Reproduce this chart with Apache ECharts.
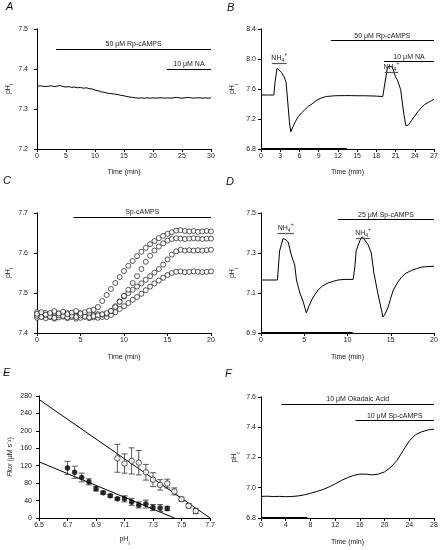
<!DOCTYPE html>
<html><head><meta charset="utf-8">
<script src="https://cdn.jsdelivr.net/npm/echarts@6/dist/echarts.min.js"></script>
<style>html,body{margin:0;padding:0;background:#fff}#c{width:444px;height:550px}</style>
</head><body><div id="c"></div>
<script>
// ---------- DATA ----------
// Panel A
const timeA = [0,0.5,1,1.5,2,2.5,3,3.5,4,4.5,5,5.5,6,6.5,7,7.5,8,8.5,9,9.5,10,10.5,11,11.5,12,12.5,13,13.5,14,14.5,15,15.5,16,16.5,17,17.5,18,18.5,19,19.5,20,20.5,21,21.5,22,22.5,23,23.5,24,24.5,25,25.5,26,26.5,27,27.5,28,28.5,29,29.5,30];
const phA = [7.357,7.358,7.357,7.356,7.357,7.358,7.356,7.357,7.359,7.356,7.355,7.356,7.354,7.355,7.353,7.354,7.352,7.353,7.351,7.350,7.347,7.346,7.343,7.342,7.340,7.339,7.338,7.337,7.336,7.334,7.333,7.331,7.330,7.329,7.328,7.327,7.328,7.327,7.328,7.327,7.328,7.327,7.328,7.328,7.327,7.328,7.327,7.328,7.329,7.328,7.327,7.328,7.329,7.328,7.327,7.328,7.328,7.327,7.328,7.327,7.328];
const barsA = [
  {text:'50 μM Rp-cAMPS', from:3.3, to:30, at:7.45},
  {text:'10 μM NA', from:22.4, to:30, at:7.40}
];
// Panel B
const timeB = [0,1,2,2.2,2.5,2.8,3.2,3.6,3.9,4.2,4.45,4.65,5.0,5.4,5.8,6.3,6.8,7.4,8.1,8.7,9.4,10.2,11.5,13,14,15,16,17,18,19,19.3,19.7,20.0,20.5,21.0,21.3,21.8,22.2,22.6,23.0,23.5,24.0,24.5,25.0,25.5,26.1,26.6,27];
const phB = [7.52,7.52,7.52,7.70,7.875,7.86,7.82,7.76,7.70,7.40,7.15,7.03,7.10,7.17,7.23,7.28,7.32,7.37,7.41,7.45,7.48,7.50,7.51,7.512,7.512,7.51,7.51,7.508,7.505,7.50,7.50,7.87,7.91,7.89,7.76,7.72,7.59,7.32,7.11,7.12,7.18,7.24,7.30,7.35,7.39,7.42,7.445,7.465];
const barsB = [
  {text:'50 μM Rp-cAMPS', from:10.9, to:27, at:8.25},
  {text:'10 μM NA', from:19.2, to:27, at:7.97}
];
const nh4B = [{from:1.7, to:4.0, at:7.94}, {from:19.3, to:21.4, at:7.82}];
const axisMarkB = [0, 13.4];
// Panel C
const timeC = [0,0.5,1,1.5,2,2.5,3,3.5,4,4.5,5,5.5,6,6.5,7,7.5,8,8.5,9,9.5,10,10.5,11,11.5,12,12.5,13,13.5,14,14.5,15,15.5,16,16.5,17,17.5,18,18.5,19,19.5,20];
const phC1 = [7.448,7.452,7.446,7.450,7.455,7.449,7.453,7.447,7.451,7.455,7.449,7.452,7.456,7.458,7.465,7.480,7.495,7.510,7.525,7.540,7.555,7.568,7.580,7.592,7.603,7.613,7.622,7.630,7.637,7.643,7.648,7.652,7.656,7.657,7.655,7.654,7.655,7.653,7.654,7.655,7.654];
const phC2 = [7.443,7.440,7.445,7.441,7.438,7.444,7.442,7.439,7.443,7.440,7.444,7.441,7.439,7.442,7.444,7.447,7.450,7.455,7.465,7.478,7.493,7.508,7.525,7.542,7.560,7.578,7.593,7.606,7.616,7.624,7.631,7.635,7.637,7.636,7.635,7.636,7.637,7.636,7.635,7.636,7.636];
const phC3 = [7.452,7.447,7.450,7.446,7.451,7.448,7.445,7.450,7.447,7.444,7.449,7.446,7.448,7.445,7.447,7.446,7.448,7.455,7.467,7.479,7.491,7.500,7.508,7.516,7.524,7.533,7.542,7.551,7.560,7.571,7.584,7.596,7.604,7.608,7.606,7.607,7.606,7.607,7.606,7.607,7.608];
const phC4 = [7.438,7.441,7.437,7.440,7.436,7.439,7.441,7.437,7.440,7.436,7.438,7.441,7.437,7.439,7.438,7.440,7.440,7.445,7.452,7.460,7.467,7.475,7.483,7.490,7.498,7.507,7.516,7.524,7.531,7.538,7.545,7.550,7.553,7.554,7.552,7.553,7.554,7.553,7.552,7.553,7.554];
const barsC = [{text:'Sp-cAMPS', from:4.2, to:20, at:7.69}];
// Panel D
const timeD = [0,1,1.9,2.15,2.55,2.9,3.15,3.5,3.9,4.1,4.5,4.85,5.25,5.5,5.85,6.2,6.6,7.1,7.75,8.3,8.9,9.6,10.65,10.85,11.0,11.4,11.7,12.0,12.4,12.75,13.05,13.5,13.9,14.1,14.35,14.7,15.0,15.3,15.75,16.25,16.8,17.4,18.0,18.6,19.3,20];
const phD = [7.165,7.165,7.165,7.31,7.373,7.365,7.355,7.29,7.24,7.165,7.10,7.06,7.00,7.03,7.065,7.09,7.115,7.135,7.15,7.158,7.165,7.168,7.168,7.23,7.31,7.36,7.381,7.365,7.34,7.30,7.20,7.10,7.02,6.98,6.995,7.03,7.075,7.115,7.15,7.18,7.20,7.213,7.222,7.23,7.232,7.234];
const barsD = [{text:'25 μM Sp-cAMPS', from:8.9, to:20, at:7.469}];
const nh4D = [{from:1.9, to:3.8, at:7.397}, {from:11.0, to:12.6, at:7.372}];
const axisMarkD = [0, 10.6];
// Panel E
const phFilled = [6.70,6.75,6.80,6.85,6.90,6.95,7.00,7.05,7.10,7.15,7.20,7.25,7.30,7.35,7.40];
const fluxFilled = [115,105,93,83,67,58,51,44,44,37,30,32,24,23,22];
const errFilled = [15,14,10,7,5,3,3,3,7,8,7,9,7,8,5];
const phOpen = [7.05,7.10,7.15,7.20,7.25,7.30,7.35,7.40,7.45,7.50,7.55,7.60];
const fluxOpen = [137,125,131,127,105,88,76,79,61,43,28,16];
const errOpen = [32,22,30,28,18,16,12,10,8,5,5,6];
const fitOpenX = [6.5, 7.7], fitOpenY = [272, 0];
const fitFilledX = [6.5, 7.45], fitFilledY = [129, 0];
// Panel F
const timeF = [0,1,2,3,4,5,6,7,8,9,10,11,12,13,14,15,16,17,18,19,20,21,22,23,24,25,26,27,28];
const phF = [6.943,6.944,6.942,6.943,6.941,6.942,6.946,6.953,6.963,6.975,6.988,7.005,7.025,7.048,7.067,7.082,7.090,7.090,7.085,7.090,7.105,7.135,7.180,7.245,7.310,7.350,7.370,7.382,7.388];
const barsF = [
  {text:'10 μM Okadaic Acid', from:3.3, to:28, at:7.554},
  {text:'10 μM Sp-cAMPS', from:15.3, to:28, at:7.445}
];
const axisMarkF = [0, 7.5];

// ---------- BUILD ----------
const FONT = '"Liberation Sans", Arial, Helvetica, sans-serif';
const zip = (a, b) => a.map((v, i) => [v, b[i]]);
const pHrich = {
  m: {fontSize: 7, fontFamily: FONT, color: '#222', verticalAlign: 'top', lineHeight: 10},
  s: {fontSize: 5, fontFamily: FONT, color: '#222', verticalAlign: 'bottom', lineHeight: 10}
};
const nhRich = {
  m: {fontSize: 7, fontFamily: FONT, color: '#222', verticalAlign: 'middle', lineHeight: 11},
  s: {fontSize: 5, fontFamily: FONT, color: '#222', verticalAlign: 'bottom', lineHeight: 11},
  p: {fontSize: 5, fontFamily: FONT, color: '#222', verticalAlign: 'top', lineHeight: 11}
};

const grids = [
  {left: 37, top: 29, width: 174, height: 120},
  {left: 261, top: 29, width: 173, height: 120},
  {left: 37, top: 213, width: 174, height: 120},
  {left: 261, top: 213, width: 173, height: 120},
  {left: 39, top: 396, width: 171, height: 122},
  {left: 261, top: 397, width: 173, height: 121}
];

function xAx(gi, min, max, interval, name, gap, fmt, rich) {
  return {
    type: 'value', gridIndex: gi, min, max, interval,
    name, nameLocation: 'middle', nameGap: gap,
    nameTextStyle: {fontSize: 7, fontFamily: FONT, color: '#222', rich: rich},
    axisLine: {onZero: false, lineStyle: {color: '#000', width: 1}},
    axisTick: {length: 3, lineStyle: {color: '#000'}},
    axisLabel: {fontSize: 7, fontFamily: FONT, color: '#222', margin: 4, formatter: fmt},
    splitLine: {show: false}
  };
}
function yAx(gi, min, max, interval, name, gap, margin, fmt) {
  return {
    type: 'value', gridIndex: gi, min, max, interval,
    name, nameLocation: 'middle', nameGap: gap,
    nameTextStyle: {fontSize: 7, fontFamily: FONT, color: '#222', rich: pHrich},
    axisLine: {onZero: false, lineStyle: {color: '#000', width: 1}},
    axisTick: {length: 3, lineStyle: {color: '#000'}},
    axisLabel: {fontSize: 7, fontFamily: FONT, color: '#222', margin: margin, formatter: fmt},
    splitLine: {show: false}
  };
}
const f1 = v => v.toFixed(1);
const f0 = v => String(Math.round(v));
const pHname = '{m|pH}{s|i}';

function barLines(bars, nh4, axisMark, ymin) {
  const data = [];
  bars.forEach(b => data.push([
    {coord: [b.from, b.at], label: {show: true, formatter: b.text}},
    {coord: [b.to, b.at]}
  ]));
  (nh4 || []).forEach(b => data.push([
    {coord: [b.from, b.at], lineStyle: {color: '#555', width: 1.2}, label: {show: true, formatter: '{m|NH}{s|4}{p|+}', rich: nhRich, distance: 0}},
    {coord: [b.to, b.at]}
  ]));
  if (axisMark) data.push([
    {coord: [axisMark[0], ymin], lineStyle: {color: '#000', width: 2}, label: {show: false}},
    {coord: [axisMark[1], ymin]}
  ]);
  return {
    silent: true, symbol: 'none', animation: false,
    lineStyle: {color: '#000', width: 1, type: 'solid'},
    label: {position: 'insideMiddleTop', fontSize: 7, fontFamily: FONT, color: '#222', distance: 1},
    emphasis: {disabled: true},
    data
  };
}

function trace(gi, x, y, ml) {
  return {
    type: 'line', xAxisIndex: gi, yAxisIndex: gi, data: zip(x, y),
    showSymbol: false, symbol: 'none', smooth: false,
    lineStyle: {color: '#000', width: 1}, z: 3,
    markLine: ml
  };
}
function circles(gi, x, y, ml) {
  return {
    type: 'scatter', xAxisIndex: gi, yAxisIndex: gi, data: zip(x, y),
    symbol: 'circle', symbolSize: 5,
    itemStyle: {color: '#fff', borderColor: '#000', borderWidth: 0.8},
    markLine: ml
  };
}
function errRender(params, api) {
  const x = api.value(0), lo = api.value(1), hi = api.value(2);
  const p1 = api.coord([x, hi]), p2 = api.coord([x, lo]);
  const w = 3;
  const st = {stroke: '#333', lineWidth: 0.8};
  return {type: 'group', children: [
    {type: 'line', shape: {x1: p1[0], y1: p1[1], x2: p2[0], y2: p2[1]}, style: st},
    {type: 'line', shape: {x1: p1[0] - w, y1: p1[1], x2: p1[0] + w, y2: p1[1]}, style: st},
    {type: 'line', shape: {x1: p2[0] - w, y1: p2[1], x2: p2[0] + w, y2: p2[1]}, style: st}
  ]};
}
const errData = (xs, ys, es) => xs.map((v, i) => [v, ys[i] - es[i], ys[i] + es[i]]);

const panelLabel = (t, left, top) => ({
  type: 'text', left, top,
  style: {text: t, fontSize: 11, fontStyle: 'italic', fontFamily: FONT, fill: '#111'}
});

const option = {
  animation: false,
  backgroundColor: '#fff',
  grid: grids,
  xAxis: [
    xAx(0, 0, 30, 5, 'Time (min)', 20, f0),
    xAx(1, 0, 27, 3, 'Time (min)', 20, f0),
    xAx(2, 0, 20, 5, 'Time (min)', 21, f0),
    xAx(3, 0, 20, 5, 'Time (min)', 21, f0),
    xAx(4, 6.5, 7.7, 0.2, pHname, 18, f1, pHrich),
    xAx(5, 0, 28, 4, 'Time (min)', 21, f0)
  ],
  yAxis: [
    yAx(0, 7.2, 7.5, 0.1, pHname, 17, 9, f1),
    yAx(1, 6.8, 8.4, 0.4, pHname, 22, 5, f1),
    yAx(2, 7.4, 7.7, 0.1, pHname, 18, 9, f1),
    yAx(3, 6.9, 7.5, 0.2, pHname, 22, 5, f1),
    Object.assign(yAx(4, 0, 280, 40, '{i|Flux} (μM s⁻¹)', 25, 7, f0), {
      nameTextStyle: {fontSize: 7, fontFamily: FONT, color: '#222',
        rich: {i: {fontSize: 7, fontStyle: 'italic', fontFamily: FONT, color: '#222'}}}
    }),
    yAx(5, 6.8, 7.6, 0.2, pHname, 20, 5, f1)
  ],
  series: [
    trace(0, timeA, phA, barLines(barsA)),
    trace(1, timeB, phB, barLines(barsB, nh4B, axisMarkB, 6.8)),
    circles(2, timeC, phC4, barLines(barsC)),
    circles(2, timeC, phC3),
    circles(2, timeC, phC2),
    circles(2, timeC, phC1),
    trace(3, timeD, phD, barLines(barsD, nh4D, axisMarkD, 6.9)),
    {type: 'line', xAxisIndex: 4, yAxisIndex: 4, data: zip(fitOpenX, fitOpenY), showSymbol: false, lineStyle: {color: '#000', width: 1}, z: 1},
    {type: 'line', xAxisIndex: 4, yAxisIndex: 4, data: zip(fitFilledX, fitFilledY), showSymbol: false, lineStyle: {color: '#000', width: 1}, z: 1},
    {type: 'custom', xAxisIndex: 4, yAxisIndex: 4, renderItem: errRender, data: errData(phFilled, fluxFilled, errFilled), z: 2},
    {type: 'custom', xAxisIndex: 4, yAxisIndex: 4, renderItem: errRender, data: errData(phOpen, fluxOpen, errOpen), z: 2},
    {type: 'scatter', xAxisIndex: 4, yAxisIndex: 4, data: zip(phFilled, fluxFilled), symbolSize: 5.5, itemStyle: {color: '#000'}, z: 4},
    {type: 'scatter', xAxisIndex: 4, yAxisIndex: 4, data: zip(phOpen, fluxOpen), symbolSize: 5.5, itemStyle: {color: '#fff', borderColor: '#000', borderWidth: 0.8}, z: 4},
    trace(5, timeF, phF, barLines(barsF, null, axisMarkF, 6.8))
  ],
  graphic: [
    panelLabel('A', 6, 1),
    panelLabel('B', 227, 2),
    panelLabel('C', 3, 175),
    panelLabel('D', 226, 176),
    panelLabel('E', 3, 367),
    panelLabel('F', 225, 368)
  ]
};
const chart = echarts.init(document.getElementById('c'), null, {renderer: 'canvas'});
chart.setOption(option);
</script>
</body></html>
